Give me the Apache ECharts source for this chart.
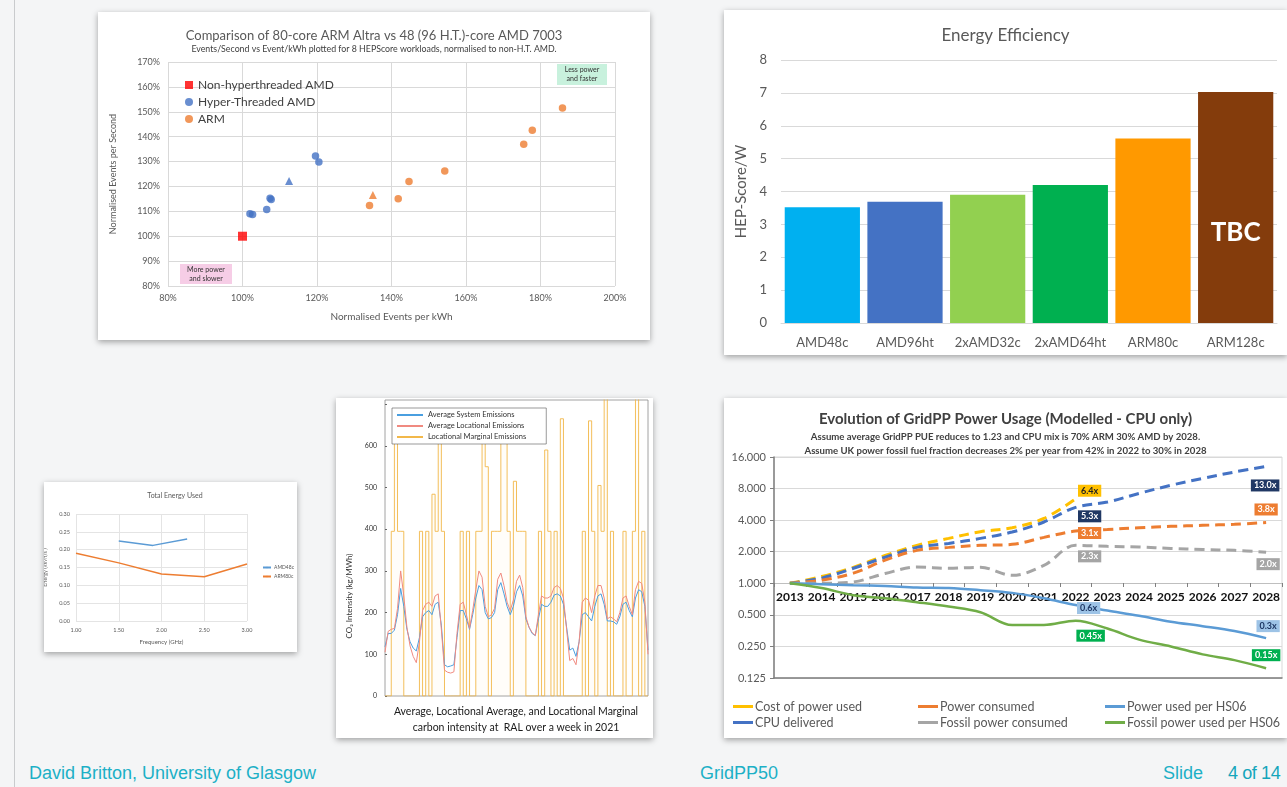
<!DOCTYPE html>
<html lang="en">
<head>
<meta charset="UTF-8">
<title>GridPP50 - Slide 4</title>
<script src="https://cdn.jsdelivr.net/npm/echarts@6/dist/echarts.min.js"></script>
<style>
  html, body { margin: 0; padding: 0; }
  body { width: 1287px; height: 787px; background: #f4f5f6; position: relative; overflow: hidden; font-family: Lato, sans-serif; }
  .rule { position: absolute; left: 14px; top: 0; width: 1px; height: 787px; background: #c9cbcd; }
  .panel { position: absolute; background: #fff; box-shadow: 0 2px 6px rgba(0,0,0,0.35); }
  .chart { width: 100%; height: 100%; }
  .foot { position: absolute; top: 763px; color: #1cb0c6; font-family: 'Liberation Sans', sans-serif; font-size: 18px; letter-spacing: 0; }
</style>
</head>
<body>
<div class="rule"></div>

<div class="panel" style="left:98px;top:12px;width:552px;height:328px;"><div class="chart" id="scatterChart"></div></div>
<div class="panel" style="left:724px;top:10px;width:563px;height:345px;"><div class="chart" id="effChart"></div></div>
<div class="panel" style="left:44px;top:482px;width:253px;height:170px;"><div class="chart" id="energyChart"></div></div>
<div class="panel" style="left:336px;top:398px;width:317px;height:340px;"><div class="chart" id="co2Chart"></div></div>
<div class="panel" style="left:724px;top:398px;width:563px;height:340px;"><div class="chart" id="gridppChart"></div></div>

<div class="foot" style="left:29px;">David Britton, University of Glasgow</div>
<div class="foot" style="left:700px;">GridPP50</div>
<div class="foot" style="left:1163px;">Slide</div>
<div class="foot" style="left:1228px;color:#14a6bb;letter-spacing:-0.4px;">4 of 14</div>

<script>
// ---- scatter: ARM Altra vs AMD ----
const nonHtAmd = [[100, 100]];
const htAmdX = [102.0, 102.7, 106.5, 107.4, 107.7, 119.6, 120.5];
const htAmdY = [109.0, 108.7, 110.7, 115.3, 114.8, 132.2, 129.8];
const htAmdTri = [[112.5, 122.2]];
const armX = [134.1, 141.8, 144.7, 154.3, 175.5, 177.8, 185.9];
const armY = [112.3, 115.1, 122.0, 126.2, 137.0, 142.6, 151.5];
const armTri = [[135.0, 116.6]];

// ---- bar: energy efficiency ----
const effCats = ['AMD48c', 'AMD96ht', '2xAMD32c', '2xAMD64ht', 'ARM80c', 'ARM128c'];
const effVals = [3.52, 3.69, 3.90, 4.20, 5.61, 7.03];

// ---- small line: total energy used ----
const freqAmd = [1.5, 1.9, 2.3];
const energyAmd = [0.224, 0.212, 0.230];
const freqArm = [1.0, 1.5, 2.0, 2.5, 3.0];
const energyArm = [0.190, 0.163, 0.132, 0.124, 0.160];

// ---- carbon intensity over a week (hours) ----
const hours = [0, 2, 4, 6, 8, 10, 12, 14, 16, 18, 20, 22, 24, 26, 28, 30, 32, 34, 36, 38, 40, 42, 44, 46, 48,
  50, 52, 54, 56, 58, 60, 62, 64, 66, 68, 70, 72, 74, 76, 78, 80, 82, 84, 86, 88, 90, 92, 94, 96, 98, 100,
  102, 104, 106, 108, 110, 112, 114, 116, 118, 120, 122, 124, 126, 128, 130, 132, 134, 136, 138, 140, 142,
  144, 146, 148, 150, 152, 154, 156, 158, 160, 162, 164, 166, 168];
const systemEm = [118, 150, 150, 158, 195, 258, 215, 160, 130, 115, 108, 140, 190, 200, 205, 195, 220, 225, 170, 75,
  70, 72, 75, 140, 205, 205, 185, 160, 195, 235, 265, 255, 200, 185, 188, 200, 255, 272, 245, 215, 195, 215,
  250, 265, 240, 185, 165, 150, 145, 185, 220, 215, 215, 225, 242, 245, 240, 220, 165, 110, 115, 95, 130, 195,
  200, 190, 180, 215, 240, 245, 220, 180, 180, 178, 172, 190, 220, 225, 205, 190, 235, 255, 250, 215, 110];
const locationalEm = [105, 155, 160, 162, 210, 300, 240, 165, 120, 95, 80, 130, 205, 220, 225, 215, 240, 245, 160, 62,
  57, 55, 58, 150, 220, 225, 195, 162, 205, 255, 300, 285, 215, 190, 195, 210, 280, 295, 265, 225, 205, 230,
  275, 290, 260, 190, 165, 152, 145, 195, 240, 235, 235, 240, 260, 265, 258, 235, 160, 85, 90, 75, 130, 225,
  235, 230, 200, 240, 265, 265, 235, 185, 190, 185, 178, 200, 235, 240, 215, 195, 255, 275, 270, 225, 100];
const marginalEm = [0, 0, 395, 610, 395, 395, 0, 0, 0, 0, 0, 395, 0, 395, 0, 484, 395, 640, 395, 0,
  0, 0, 0, 0, 395, 0, 395, 0, 0, 395, 395, 640, 550, 0, 395, 395, 395, 620, 610, 395, 0, 515,
  395, 395, 395, 0, 0, 0, 0, 395, 0, 590, 395, 0, 395, 0, 665, 0, 0, 0, 0, 0, 0, 395,
  0, 660, 395, 0, 505, 395, 720, 0, 395, 0, 0, 0, 395, 0, 0, 395, 720, 0, 395, 0, 0];

// ---- GridPP power usage (relative to 2013) ----
const years = ['2013', '2014', '2015', '2016', '2017', '2018', '2019', '2020', '2021', '2022',
  '2023', '2024', '2025', '2026', '2027', '2028'];
const costPower = [1, 1.16, 1.42, 1.84, 2.3, 2.68, 3.1, 3.38, 4.15, 6.4];
const powerConsumed = [1, 1.07, 1.25, 1.66, 2.06, 2.2, 2.3, 2.35, 2.74, 3.15, 3.26, 3.39, 3.49, 3.57, 3.65, 3.8];
const powerPerHs06 = [1, 0.98, 0.96, 0.94, 0.91, 0.9, 0.86, 0.81, 0.72, 0.62, 0.55, 0.49, 0.43, 0.39, 0.35, 0.3];
const cpuDelivered = [1, 1.12, 1.39, 1.77, 2.2, 2.4, 2.68, 3.08, 3.84, 5.3, 5.95, 7.2, 8.6, 10, 11.5, 13.0];
const fossilConsumed = [1, 1.0, 1.03, 1.24, 1.43, 1.39, 1.42, 1.19, 1.48, 2.3, 2.25, 2.22, 2.15, 2.1, 2.06, 1.98];
const fossilPerHs06 = [1, 0.9, 0.77, 0.72, 0.66, 0.6, 0.53, 0.40, 0.40, 0.44, 0.37, 0.29, 0.25, 0.21, 0.185, 0.155];
const costTags = { 9: '6.4x' };
const consumedTags = { 9: '3.1x', 15: '3.8x' };
const perHs06Tags = { 9: '0.6x', 15: '0.3x' };
const cpuTags = { 9: '5.3x', 15: '13.0x' };
const fossilTags = { 9: '2.3x', 15: '2.0x' };
const fossilHs06Tags = { 9: '0.45x', 15: '0.15x' };

const FONT = 'Lato, sans-serif';
const GRID_GRAY = '#d9d9d9';

// 散点图
function renderScatter() {
    const chart = echarts.init(document.getElementById('scatterChart'));
    const zip = (xs, ys) => xs.map((x, i) => [x, ys[i]]);
    chart.setOption({
        textStyle: { fontFamily: FONT },
        title: {
            text: 'Comparison of 80-core ARM Altra vs 48 (96 H.T.)-core AMD 7003',
            subtext: 'Events/Second vs Event/kWh plotted for 8 HEPScore workloads, normalised to non-H.T. AMD.',
            left: 'center', top: 12, itemGap: 3,
            textStyle: { fontSize: 13, fontWeight: 'normal', color: '#595959', fontFamily: FONT },
            subtextStyle: { fontSize: 8.8, color: '#404040', fontFamily: FONT }
        },
        grid: { left: 70, right: 35, top: 50, bottom: 54, outerBoundsMode: 'none' },
        legend: {
            orient: 'vertical', left: 82, top: 62, itemGap: 5, itemWidth: 8, itemHeight: 8,
            textStyle: { fontSize: 12, color: '#404040', fontFamily: FONT },
            data: ['Non-hyperthreaded AMD', 'Hyper-Threaded AMD', 'ARM']
        },
        xAxis: {
            type: 'value', min: 80, max: 200, interval: 20,
            name: 'Normalised Events per kWh', nameLocation: 'middle', nameGap: 26,
            nameTextStyle: { fontSize: 10, color: '#595959' },
            axisLine: { show: false }, axisTick: { show: false },
            axisLabel: { fontSize: 9, color: '#595959', formatter: v => v + '%' },
            splitLine: { lineStyle: { color: GRID_GRAY } }
        },
        yAxis: {
            type: 'value', min: 80, max: 170, interval: 10,
            name: 'Normalised Events per Second', nameLocation: 'middle', nameGap: 50,
            nameTextStyle: { fontSize: 9, color: '#595959' },
            axisLine: { show: false }, axisTick: { show: false },
            axisLabel: { fontSize: 9, color: '#595959', formatter: v => v + '%' },
            splitLine: { lineStyle: { color: GRID_GRAY } }
        },
        graphic: [
            { type: 'rect', shape: { x: 82, y: 252, width: 52, height: 20 }, style: { fill: '#f6cde6' } },
            { type: 'text', x: 108, y: 262, style: { text: 'More power\nand slower', fontSize: 7, fill: '#333', align: 'center', verticalAlign: 'middle', lineHeight: 9, fontFamily: FONT } },
            { type: 'rect', shape: { x: 459, y: 52, width: 50, height: 21 }, style: { fill: '#c8f1dd' } },
            { type: 'text', x: 484, y: 62, style: { text: 'Less power\nand faster', fontSize: 7, fill: '#333', align: 'center', verticalAlign: 'middle', lineHeight: 9, fontFamily: FONT } }
        ],
        series: [
            { name: 'Non-hyperthreaded AMD', type: 'scatter', symbol: 'rect', symbolSize: 9, itemStyle: { color: '#ff0000' }, data: nonHtAmd },
            { name: 'Hyper-Threaded AMD', type: 'scatter', symbol: 'circle', symbolSize: 7.5, itemStyle: { color: '#4472c4' }, data: zip(htAmdX, htAmdY) },
            { name: 'Hyper-Threaded AMD', type: 'scatter', symbol: 'triangle', symbolSize: 8, itemStyle: { color: '#4472c4' }, data: htAmdTri },
            { name: 'ARM', type: 'scatter', symbol: 'circle', symbolSize: 7.5, itemStyle: { color: '#ed7d31' }, data: zip(armX, armY) },
            { name: 'ARM', type: 'scatter', symbol: 'triangle', symbolSize: 8, itemStyle: { color: '#ed7d31' }, data: armTri }
        ]
    });
}

// 柱状图
function renderEfficiency() {
    const chart = echarts.init(document.getElementById('effChart'));
    const barColors = ['#00b0f0', '#4472c4', '#92d050', '#00b050', '#ff9900', '#843c0c'];
    chart.setOption({
        textStyle: { fontFamily: FONT },
        title: {
            text: 'Energy Efficiency', left: 'center', top: 12,
            textStyle: { fontSize: 17, fontWeight: 'normal', color: '#595959', fontFamily: FONT }
        },
        grid: { left: 57, right: 10, top: 50, bottom: 32, outerBoundsMode: 'none' },
        xAxis: {
            type: 'category', data: effCats,
            axisLine: { lineStyle: { color: GRID_GRAY } }, axisTick: { show: false },
            axisLabel: { interval: 0, fontSize: 13, color: '#595959', margin: 13 }
        },
        yAxis: {
            type: 'value', min: 0, max: 8, interval: 1,
            name: 'HEP-Score/W', nameLocation: 'middle', nameGap: 28,
            nameTextStyle: { fontSize: 15, color: '#595959' },
            axisLine: { show: false }, axisTick: { show: false },
            axisLabel: { fontSize: 13, color: '#595959', margin: 14 },
            splitLine: { lineStyle: { color: GRID_GRAY } }
        },
        series: [{
            type: 'bar', barCategoryGap: '9%',
            data: effVals.map((v, i) => {
                const item = { value: v, itemStyle: { color: barColors[i] } };
                if (effCats[i] === 'ARM128c') {
                    item.label = { show: true, formatter: 'TBC', position: ['50%', '61%'], align: 'center', verticalAlign: 'middle', color: '#fff', fontSize: 26, fontWeight: 'bold' };
                }
                return item;
            })
        }]
    });
}

// 小折线图
function renderEnergy() {
    const chart = echarts.init(document.getElementById('energyChart'));
    const zip = (xs, ys) => xs.map((x, i) => [x, ys[i]]);
    chart.setOption({
        textStyle: { fontFamily: FONT },
        title: {
            text: 'Total Energy Used', left: 126, textAlign: 'center', top: 5,
            textStyle: { fontSize: 7, fontWeight: 'normal', color: '#595959', fontFamily: FONT }
        },
        grid: { left: 32, right: 50, top: 32, bottom: 31, outerBoundsMode: 'none' },
        legend: {
            orient: 'vertical', left: 218, top: 83, itemGap: 4, itemWidth: 8, itemHeight: 2, padding: 0,
            textStyle: { fontSize: 5, color: '#595959', fontFamily: FONT, padding: [0, 0, 0, -2] },
            data: ['AMD48c', 'ARM80c']
        },
        xAxis: {
            type: 'value', min: 1, max: 3, interval: 0.5,
            name: 'Frequency (GHz)', nameLocation: 'middle', nameGap: 18,
            nameTextStyle: { fontSize: 6, color: '#595959' },
            axisLine: { show: false }, axisTick: { show: false },
            axisLabel: { fontSize: 5.5, color: '#595959', margin: 6, formatter: v => v.toFixed(2) },
            splitLine: { lineStyle: { color: '#e4e4e4' } }
        },
        yAxis: {
            type: 'value', min: 0, max: 0.3, interval: 0.05,
            name: 'Energy (kWh/s )', nameLocation: 'middle', nameGap: 18,
            nameTextStyle: { fontSize: 5.5, color: '#595959' },
            axisLine: { show: false }, axisTick: { show: false },
            axisLabel: { fontSize: 5.5, color: '#595959', margin: 6, formatter: v => v.toFixed(2) },
            splitLine: { lineStyle: { color: '#e4e4e4' } }
        },
        series: [
            { name: 'AMD48c', type: 'line', symbol: 'none', lineStyle: { width: 1.5, color: '#5b9bd5' }, itemStyle: { color: '#5b9bd5' }, data: zip(freqAmd, energyAmd) },
            { name: 'ARM80c', type: 'line', symbol: 'none', lineStyle: { width: 1.5, color: '#ed7d31' }, itemStyle: { color: '#ed7d31' }, data: zip(freqArm, energyArm) }
        ]
    });
}

// 碳强度
function renderCo2() {
    const chart = echarts.init(document.getElementById('co2Chart'));
    const zip = ys => hours.map((h, i) => [h, ys[i]]);
    chart.setOption({
        textStyle: { fontFamily: FONT },
        grid: { left: 49, right: 5, top: 2, bottom: 42, show: true, borderColor: '#8c8c8c', borderWidth: 0.8, outerBoundsMode: 'none' },
        legend: {
            orient: 'vertical', left: 56, top: 10, itemGap: 3, itemWidth: 26, itemHeight: 2,
            backgroundColor: '#fff', borderColor: '#555', borderWidth: 0.6, padding: [3, 20, 3, 4],
            textStyle: { fontSize: 7.5, color: '#333', fontFamily: FONT },
            data: ['Average System Emissions', 'Average Locational Emissions', 'Locational Marginal Emissions']
        },
        xAxis: {
            type: 'value', min: 0, max: 168,
            axisLine: { show: false }, axisTick: { show: false }, axisLabel: { show: false }, splitLine: { show: false }
        },
        yAxis: {
            type: 'value', min: 0, max: 710, interval: 100,
            axisLine: { show: false },
            axisTick: { show: true, inside: true, length: 2, lineStyle: { color: '#666' } },
            axisLabel: { fontSize: 7, color: '#333', margin: 8, showMaxLabel: false, formatter: v => (v <= 600 ? String(v) : '') },
            splitLine: { show: false }
        },
        graphic: [
            { type: 'text', x: 13, y: 198, rotation: Math.PI / 2, style: { text: 'CO\u2082 Intensity (kg/MWh)', fontSize: 8, fill: '#333', align: 'center', verticalAlign: 'middle', fontFamily: FONT } },
            { type: 'text', x: 180, y: 314, style: { text: 'Average, Locational Average, and Locational Marginal', fontSize: 10.5, fill: '#1a1a1a', align: 'center', verticalAlign: 'middle', fontFamily: FONT } },
            { type: 'text', x: 180, y: 330, style: { text: 'carbon intensity at  RAL over a week in 2021', fontSize: 10.5, fill: '#1a1a1a', align: 'center', verticalAlign: 'middle', fontFamily: FONT } }
        ],
        series: [
            { name: 'Average System Emissions', type: 'line', z: 3, symbol: 'none', lineStyle: { width: 1, color: '#4a9fe0' }, itemStyle: { color: '#4a9fe0' }, data: zip(systemEm) },
            { name: 'Average Locational Emissions', type: 'line', z: 3, symbol: 'none', lineStyle: { width: 1, color: '#f08a80' }, itemStyle: { color: '#f08a80' }, data: zip(locationalEm) },
            { name: 'Locational Marginal Emissions', type: 'line', z: 2, step: 'end', symbol: 'none', lineStyle: { width: 0.9, color: '#f2b84a' }, itemStyle: { color: '#f2b84a' }, areaStyle: { color: 'rgba(243,190,80,0.05)' }, data: zip(marginalEm) }
        ]
    });
}

// GridPP 功耗演变
function renderGridpp() {
    const chart = echarts.init(document.getElementById('gridppChart'));
    const tagged = (vals, tags, offsets, bg, fg) => vals.map((v, i) => {
        if (!tags[i]) return v;
        return {
            value: v,
            label: {
                show: true, formatter: tags[i], position: 'inside', offset: offsets[i],
                backgroundColor: bg, color: fg, fontSize: 9, fontWeight: 'bold', padding: [2, 3, 1, 3]
            }
        };
    });
    const line = (name, data, color, dashed) => ({
        name, type: 'line', data, smooth: 0.35, symbol: 'circle', symbolSize: 0.1, showSymbol: true, showAllSymbol: true,
        itemStyle: { color },
        lineStyle: { color, width: dashed ? 3 : 2.5, type: dashed ? [10, 6] : 'solid' },
        emphasis: { disabled: true }
    });
    const legendAt = (name, left, top) => ({
        left, top, data: [name], itemWidth: 20, itemHeight: 3, itemGap: 0, padding: 0,
        icon: 'rect', textStyle: { fontSize: 12.5, color: '#595959', fontFamily: FONT, padding: [0, 0, 0, -3] }
    });
    chart.setOption({
        textStyle: { fontFamily: FONT },
        title: [
            { text: 'Evolution of GridPP Power Usage (Modelled - CPU only)', left: 'center', top: 9, textStyle: { fontSize: 15, fontWeight: 'bold', color: '#404040', fontFamily: FONT } },
            { text: 'Assume average GridPP PUE reduces to 1.23 and CPU mix is 70% ARM 30% AMD by 2028.', left: 'center', top: 29, textStyle: { fontSize: 9.6, fontWeight: 'bold', color: '#404040', fontFamily: FONT } },
            { text: 'Assume UK power fossil fuel fraction decreases 2% per year from 42% in 2022 to 30% in 2028', left: 'center', top: 43, textStyle: { fontSize: 9.6, fontWeight: 'bold', color: '#404040', fontFamily: FONT } }
        ],
        grid: { left: 50, right: 5, top: 59, bottom: 60, show: true, borderColor: GRID_GRAY, borderWidth: 1, outerBoundsMode: 'none' },
        legend: [
            legendAt('Cost of power used', 9, 302),
            legendAt('Power consumed', 194, 302),
            legendAt('Power used per HS06', 381, 302),
            legendAt('CPU delivered', 9, 318),
            legendAt('Fossil power consumed', 194, 318),
            legendAt('Fossil power used per HS06', 381, 318)
        ],
        xAxis: [
            {
                type: 'category', data: years, boundaryGap: true, position: 'bottom', offset: -95,
                axisLine: { lineStyle: { color: '#bfbfbf' } },
                axisTick: { show: true, length: 4, lineStyle: { color: '#7f7f7f' } },
                axisLabel: { interval: 0, fontSize: 12, fontWeight: 'bold', color: '#111', margin: 8 }
            },
            {
                type: 'category', data: years, boundaryGap: true, position: 'bottom',
                axisLine: { lineStyle: { color: '#7f7f7f', width: 1.5 } },
                axisTick: { show: false }, axisLabel: { show: false }
            }
        ],
        yAxis: {
            type: 'log', logBase: 2, min: 0.125, max: 16,
            axisLine: { show: true, lineStyle: { color: '#7f7f7f', width: 1.5 } },
            axisTick: { show: true, length: 4, lineStyle: { color: '#7f7f7f' } },
            axisLabel: { fontSize: 11, color: '#595959', margin: 8, formatter: v => v.toFixed(3) },
            splitLine: { lineStyle: { color: GRID_GRAY } }
        },
        series: [
            line('Cost of power used', tagged(costPower, costTags, { 9: [14, -8] }, '#ffc000', '#222'), '#ffc000', true),
            line('CPU delivered', tagged(cpuDelivered, cpuTags, { 9: [14, 9], 15: [-1, 19] }, '#203864', '#fff'), '#4472c4', true),
            line('Power consumed', tagged(powerConsumed, consumedTags, { 9: [14, 2], 15: [0, -13] }, '#ed7d31', '#fff'), '#ed7d31', true),
            line('Fossil power consumed', tagged(fossilConsumed, fossilTags, { 9: [14, 11], 15: [2, 12] }, '#a5a5a5', '#fff'), '#a5a5a5', true),
            line('Power used per HS06', tagged(powerPerHs06, perHs06Tags, { 9: [13, 3], 15: [2, -12] }, '#9dc3e6', '#1f3864'), '#5b9bd5', false),
            line('Fossil power used per HS06', tagged(fossilPerHs06, fossilHs06Tags, { 9: [15, 15], 15: [0, -13] }, '#00b050', '#fff'), '#70ad47', false)
        ]
    });
}

renderScatter();
renderEfficiency();
renderEnergy();
renderCo2();
renderGridpp();
</script>
</body>
</html>
